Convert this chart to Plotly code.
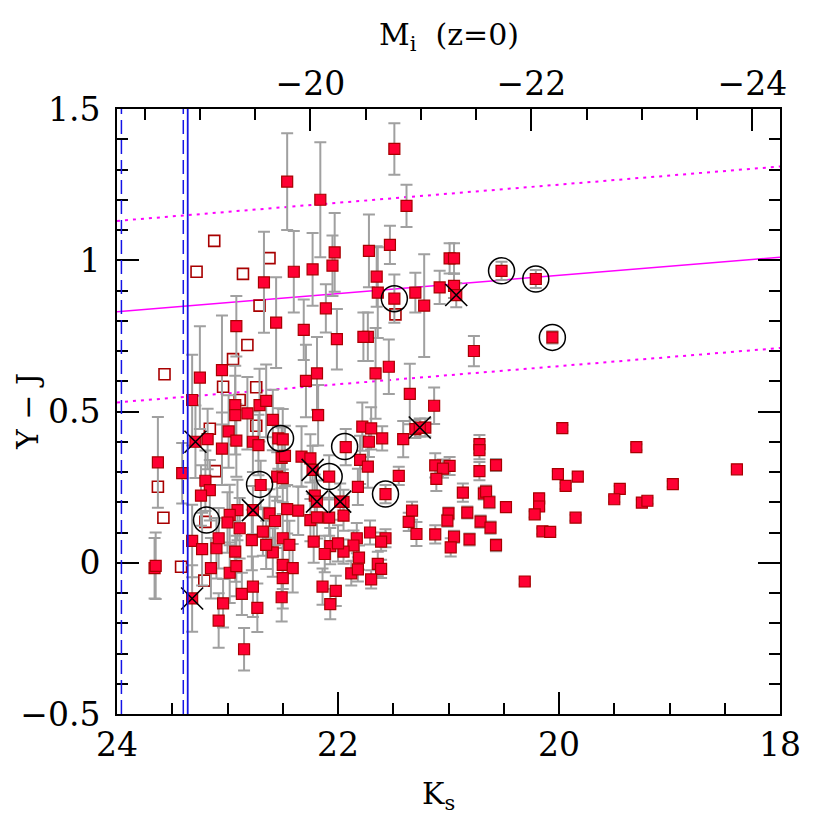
import plotly.graph_objects as go

# --- data ------------------------------------------------------------------ #

# filled squares with Y-J error bars
KS = [23.63, 23.66, 23.65, 23.41,
      22.46, 22.16, 22.03, 22.05, 22.23, 22.40, 22.67, 22.56, 22.92, 22.31,
      22.11, 22.01, 21.49, 21.38, 21.53, 21.72, 21.65, 21.64, 21.49, 21.30,
      21.22, 21.08, 20.99, 20.95, 20.95, 20.93, 20.52, 20.21, 20.06, 20.77,
      21.73, 21.77, 21.54, 21.66, 21.35, 21.13, 19.97, 21.30, 21.21, 21.26,
      21.41, 21.60, 21.78, 21.72, 21.70, 21.93, 21.80, 21.73, 20.72, 20.72,
      20.72, 21.12, 20.99, 21.05, 21.11, 20.57, 20.01, 19.94, 19.83, 21.45,
      21.82, 21.57, 20.87, 20.68, 20.66, 20.63, 20.48, 20.18, 20.18, 20.22,
      19.85, 20.15, 20.08, 21.33, 21.36, 21.00, 21.01, 20.83, 20.71, 20.62,
      21.29, 21.12, 20.95, 20.81, 20.57, 20.98, 21.95, 21.95, 22.08, 21.71,
      21.57, 21.61, 21.83, 21.86, 21.81, 21.95, 21.64, 21.61, 21.88, 21.82,
      21.70, 20.31, 19.30, 18.39, 18.97, 19.45, 19.50, 19.25, 19.20,
      23.25, 23.05, 22.29, 22.19, 22.18, 23.32, 22.93, 22.93, 22.82, 22.71,
      22.65, 22.59, 23.29, 23.18, 22.99, 22.92, 23.05, 22.77, 22.72, 22.54,
      22.50, 22.51, 22.48, 22.33, 22.25, 22.23, 23.20, 23.16, 23.24, 22.70,
      22.55, 22.50, 22.77, 22.62, 22.57, 22.46, 22.36, 22.21, 22.19, 21.98,
      22.08, 22.25, 22.19, 22.91, 22.98, 23.00, 22.89, 22.68, 22.50, 22.44,
      22.22, 22.07, 22.00, 22.12, 23.32, 23.23, 23.10, 23.08, 22.93, 22.78,
      22.59, 22.50, 22.41, 23.15, 22.98, 22.92, 23.32, 23.04, 23.08, 22.85,
      22.87, 22.77, 22.73, 22.50, 22.51, 22.14, 22.02, 22.07, 22.65]
YJ = [0.332, -0.018, -0.010, 0.296,
      1.260, 1.200, 1.026, 0.982, 0.970, 0.962, 0.927, 0.794, 0.782, 0.770,
      0.841, 0.739, 1.368, 1.180, 1.051, 1.031, 0.946, 0.893, 0.873, 0.893,
      0.850, 0.910, 1.006, 1.006, 0.915, 0.885, 0.965, 0.938, 0.745, 0.700,
      0.747, 0.747, 0.648, 0.626, 0.558, 0.519, 0.445, 0.442, 0.447, 0.447,
      0.409, 0.411, 0.450, 0.400, 0.444, 0.382, 0.340, 0.318, 0.392, 0.372,
      0.303, 0.322, 0.320, 0.311, 0.277, 0.323, 0.293, 0.254, 0.285, 0.287,
      0.251, 0.227, 0.232, 0.229, 0.235, 0.200, 0.184, 0.213, 0.186, 0.160,
      0.149, 0.104, 0.102, 0.172, 0.135, 0.163, 0.139, 0.166, 0.136, 0.116,
      0.095, 0.094, 0.086, 0.077, 0.058, 0.051, 0.201, 0.156, 0.285, 0.100,
      0.081, 0.070, 0.081, 0.057, 0.017, 0.037, -0.004, -0.020, -0.035, -0.022,
      -0.055, -0.062, 0.382, 0.309, 0.260, 0.244, 0.210, 0.199, 0.205,
      0.612, 0.637, 0.601, 0.626, 0.488, 0.538, 0.521, 0.488, 0.494, 0.521,
      0.535, 0.472, 0.400, 0.409, 0.434, 0.404, 0.377, 0.400, 0.389, 0.411,
      0.408, 0.347, 0.353, 0.351, 0.345, 0.307, 0.271, 0.240, 0.222, 0.257,
      0.285, 0.280, 0.174, 0.163, 0.138, 0.177, 0.172, 0.222, 0.202, 0.202,
      0.149, 0.141, 0.150, 0.174, 0.158, 0.133, 0.114, 0.103, 0.081, 0.059,
      0.070, 0.055, 0.064, 0.029, 0.072, 0.045, 0.048, 0.081, 0.037, 0.075,
      0.034, -0.007, -0.018, -0.018, -0.033, -0.011, -0.118, -0.134, -0.191, -0.286,
      -0.103, -0.079, -0.149, -0.051, -0.114, -0.079, -0.093, -0.137, 0.059]
YJ_ERR = [0.15, 0.10, 0.11, 0.10,
          0.16, 0.19, 0.13, 0.10, 0.12, 0.135, 0.167, 0.15, 0.10, 0.10,
          0.08, 0.10, 0.085, 0.07, 0.063, 0.12, 0.10, 0.15, 0.08, 0.066,
          0.17, 0.055, 0.05, 0.05, 0.04, 0.04, 0.03, 0.03, 0.02, 0.05,
          0.08, 0.08, 0.09, 0.15, 0.10, 0.06, 0.01, 0.03, 0.03, 0.03,
          0.06, 0.04, 0.08, 0.05, 0.07, 0.06, 0.08, 0.07, 0.03, 0.03,
          0.03, 0.04, 0.03, 0.03, 0.04, 0.02, 0.01, 0.01, 0.01, 0.03,
          0.06, 0.03, 0.03, 0.02, 0.02, 0.02, 0.01, 0.01, 0.01, 0.01,
          0.01, 0.01, 0.01, 0.03, 0.03, 0.02, 0.02, 0.02, 0.02, 0.02,
          0.04, 0.03, 0.02, 0.02, 0.02, 0.03, 0.04, 0.05, 0.07, 0.04,
          0.03, 0.03, 0.05, 0.05, 0.04, 0.04, 0.04, 0.03, 0.04, 0.04,
          0.03, 0.01, 0.01, 0.01, 0.01, 0.01, 0.01, 0.01, 0.01,
          0.17, 0.18, 0.12, 0.12, 0.10, 0.15, 0.13, 0.13, 0.12, 0.12,
          0.12, 0.10, 0.12, 0.10, 0.12, 0.12, 0.12, 0.10, 0.10, 0.10,
          0.10, 0.10, 0.10, 0.10, 0.08, 0.08, 0.10, 0.10, 0.10, 0.08,
          0.08, 0.08, 0.08, 0.08, 0.08, 0.08, 0.08, 0.07, 0.07, 0.06,
          0.06, 0.07, 0.07, 0.10, 0.10, 0.10, 0.10, 0.08, 0.08, 0.08,
          0.07, 0.06, 0.06, 0.06, 0.12, 0.12, 0.10, 0.10, 0.10, 0.10,
          0.08, 0.08, 0.08, 0.10, 0.10, 0.10, 0.11, 0.08, 0.09, 0.07,
          0.07, 0.10, 0.08, 0.10, 0.08, 0.06, 0.05, 0.05, 0.08]

# open squares (no error bars)
OPEN_KS = [23.63, 23.58, 23.57, 23.42, 23.28, 23.12, 22.86, 22.62, 22.71, 22.82,
           22.95, 23.04, 22.74, 22.89, 22.74, 23.16, 23.11, 23.21, 21.48, 23.20]
OPEN_YJ = [0.251, 0.149, 0.623, -0.013, 0.962, 1.064, 0.955, 1.007, 0.850, 0.720,
           0.673, 0.582, 0.580, 0.538, 0.453, 0.443, 0.303, -0.059, 0.821, 0.135]

# circled sources
CIRCLE_KS = [23.19, 22.71, 22.52, 22.08, 21.94, 21.57, 21.49, 20.52, 20.21, 20.06]
CIRCLE_YJ = [0.141, 0.259, 0.411, 0.285, 0.384, 0.227, 0.873, 0.965, 0.938, 0.745]

# crossed sources
CROSS_KS = [23.32, 23.29, 22.77, 22.23, 22.19, 21.98, 21.26, 20.93]
CROSS_YJ = [-0.118, 0.400, 0.174, 0.307, 0.202, 0.202, 0.447, 0.885]

# colour-magnitude relation and its +/- 0.3 envelope
CMR_KS = [24.0, 18.0]
CMR_YJ = [0.83, 1.01]
CMR_WIDTH = 0.3

# magnitude limits (dashed / solid)
LIMIT_DASHED = [23.96, 23.40]
LIMIT_SOLID = 23.36

# top axis: M_i = Ks + offset
MI_OFFSET = -42.25
KS_RANGE = [24.0, 18.0]
YJ_RANGE = [-0.5, 1.5]

# --- style ----------------------------------------------------------------- #

FONT = "DejaVu Serif"
RED = "#ff0033"
DARK_RED = "#a80000"
GREY = "#a0a0a0"
BLUE = "#1414e6"
MAGENTA = "#ff00ff"

fig = go.Figure()

for dy, dash, w in [(0.0, "solid", 1.5), (CMR_WIDTH, "3px,5px", 2), (-CMR_WIDTH, "3px,5px", 2)]:
    fig.add_trace(go.Scatter(
        x=CMR_KS, y=[v + dy for v in CMR_YJ], mode="lines",
        line=dict(color=MAGENTA, width=w, dash=dash),
        hoverinfo="skip", showlegend=False))

for ks in LIMIT_DASHED:
    fig.add_vline(x=ks, line=dict(color=BLUE, width=1.5, dash="14px,6px"))
fig.add_vline(x=LIMIT_SOLID, line=dict(color=BLUE, width=1.8))

fig.add_trace(go.Scatter(
    x=OPEN_KS, y=OPEN_YJ, mode="markers",
    marker=dict(symbol="square", size=11, color="white",
                line=dict(color=DARK_RED, width=1.6)),
    showlegend=False))

fig.add_trace(go.Scatter(
    x=KS, y=YJ, mode="markers",
    marker=dict(symbol="square", size=11, color=RED,
                line=dict(color=DARK_RED, width=1.2)),
    error_y=dict(type="data", array=YJ_ERR, color=GREY, thickness=2, width=6),
    showlegend=False))

fig.add_trace(go.Scatter(
    x=CIRCLE_KS, y=CIRCLE_YJ, mode="markers",
    marker=dict(symbol="circle-open", size=26, color="black",
                line=dict(color="black", width=1.5)),
    showlegend=False))

fig.add_trace(go.Scatter(
    x=CROSS_KS, y=CROSS_YJ, mode="markers",
    marker=dict(symbol="x-thin-open", size=22, color="black",
                line=dict(color="black", width=1.6)),
    showlegend=False))

# empty trace so the top M_i axis gets drawn
fig.add_trace(go.Scatter(
    x=[k + MI_OFFSET for k in KS_RANGE], y=[None, None], xaxis="x2",
    mode="markers", hoverinfo="skip", showlegend=False))

tickfont = dict(family=FONT, size=33, color="black")
fig.update_layout(
    width=822, height=822,
    margin=dict(l=109, r=50, t=101, b=116),
    paper_bgcolor="white", plot_bgcolor="white",
    font=dict(family=FONT, color="black"),
    xaxis=dict(range=KS_RANGE, showgrid=False, zeroline=False,
               showline=True, linecolor="black", linewidth=2, mirror=True,
               ticks="inside", ticklen=22, tickwidth=1.5, tickcolor="black",
               tickmode="linear", tick0=0, dtick=2, tickfont=tickfont,
               ticklabelstandoff=0, automargin=False,
               minor=dict(ticks="inside", ticklen=11, tickwidth=1.5,
                          tickcolor="black", dtick=0.5, tick0=0)),
    xaxis2=dict(overlaying="x", side="top", anchor="y",
                range=[k + MI_OFFSET for k in KS_RANGE],
                showgrid=False, zeroline=False, showline=False,
                ticks="inside", ticklen=22, tickwidth=1.5, tickcolor="black",
                tickmode="linear", tick0=0, dtick=2, tickfont=tickfont,
                ticklabelstandoff=6, automargin=False,
                minor=dict(ticks="inside", ticklen=11, tickwidth=1.5,
                           tickcolor="black", dtick=0.5, tick0=0)),
    yaxis=dict(range=YJ_RANGE, showgrid=False, zeroline=False,
               showline=True, linecolor="black", linewidth=2, mirror="ticks",
               ticks="inside", ticklen=22, tickwidth=1.5, tickcolor="black",
               tickvals=[-0.5, 0, 0.5, 1, 1.5],
               ticktext=["\u22120.5", "0", "0.5", "1", "1.5"],
               tickfont=tickfont, ticklabelstandoff=8, automargin=False,
               minor=dict(ticks="inside", ticklen=11, tickwidth=1.5,
                          tickcolor="black", dtick=0.1, tick0=0)),
    annotations=[
        dict(text="K<sub>s</sub>", x=0.485, y=-0.135, xref="paper", yref="paper",
             showarrow=False, font=dict(family=FONT, size=30),
             xanchor="center", yanchor="middle"),
        dict(text="M<sub>i</sub>  (z=0)", x=0.5, y=1.12, xref="paper", yref="paper",
             showarrow=False, font=dict(family=FONT, size=30),
             xanchor="center", yanchor="middle"),
        dict(text="Y \u2212 J", x=-0.135, y=0.5, xref="paper", yref="paper",
             showarrow=False, textangle=-90, font=dict(family=FONT, size=30),
             xanchor="center", yanchor="middle"),
    ],
)

fig.write_html("out.html")
